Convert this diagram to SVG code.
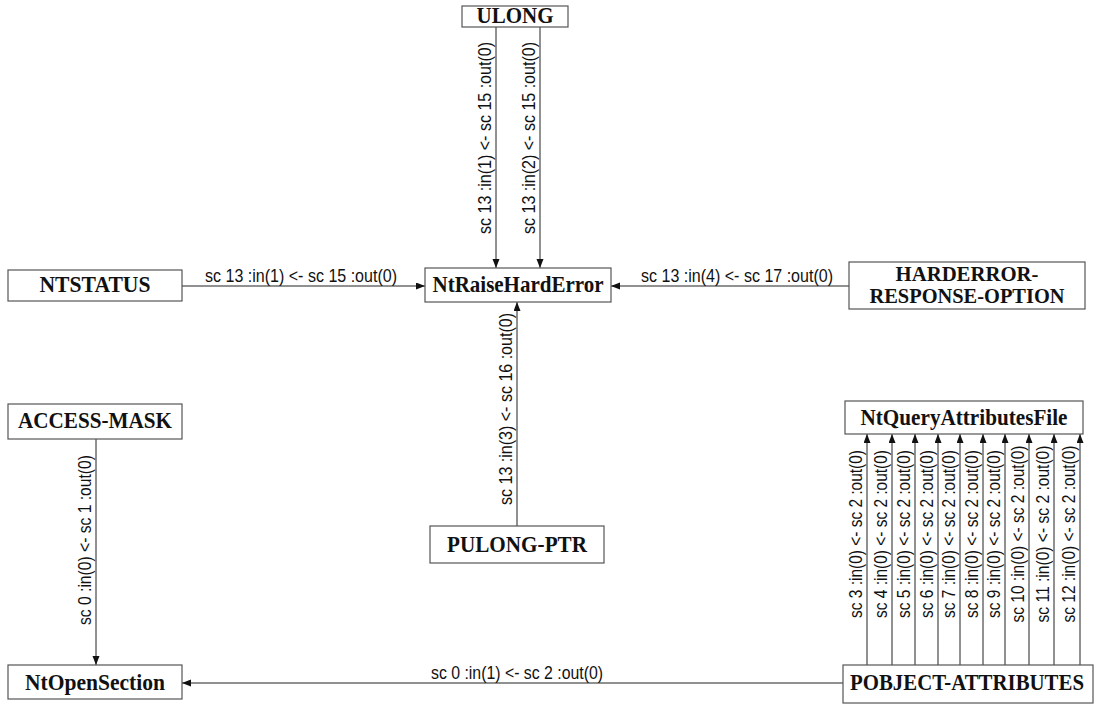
<svg xmlns="http://www.w3.org/2000/svg" width="1097" height="709" viewBox="0 0 1097 709">
<style>
.box{fill:#fff;stroke:#555;stroke-width:1.2}
.nl{font-family:"Liberation Serif","Times New Roman",serif;font-weight:bold;font-size:24px;fill:#111;text-anchor:middle}
.nl2{font-size:21px}
.el{font-family:"Liberation Sans",Arial,sans-serif;font-size:18px;fill:#111;text-anchor:middle}
.edge{stroke:#222;stroke-width:1;fill:none;marker-end:url(#ah)}
</style>
<defs>
<marker id="ah" markerUnits="userSpaceOnUse" markerWidth="10" markerHeight="8" refX="9" refY="3.5" orient="auto">
<path d="M0,0 L9,3.5 L0,7 z" fill="#111"/>
</marker>
</defs>
<rect width="1097" height="709" fill="#fff"/>
<g id="connectors">
<line class="edge" x1="496" y1="27" x2="496" y2="268"/>
<line class="edge" x1="540" y1="27" x2="540" y2="268"/>
<line class="edge" x1="182" y1="286" x2="425" y2="286"/>
<line class="edge" x1="849" y1="286" x2="611" y2="286"/>
<line class="edge" x1="517" y1="526" x2="517" y2="302"/>
<line class="edge" x1="96" y1="439" x2="96" y2="665"/>
<line class="edge" x1="843" y1="683" x2="182" y2="683"/>
<line class="edge" x1="867" y1="665" x2="867" y2="434"/>
<line class="edge" x1="892" y1="665" x2="892" y2="434"/>
<line class="edge" x1="915" y1="665" x2="915" y2="434"/>
<line class="edge" x1="938" y1="665" x2="938" y2="434"/>
<line class="edge" x1="960" y1="665" x2="960" y2="434"/>
<line class="edge" x1="983" y1="665" x2="983" y2="434"/>
<line class="edge" x1="1005" y1="665" x2="1005" y2="434"/>
<line class="edge" x1="1029" y1="665" x2="1029" y2="434"/>
<line class="edge" x1="1054" y1="665" x2="1054" y2="434"/>
<line class="edge" x1="1080" y1="665" x2="1080" y2="434"/>
<text class="el" x="491" y="138" transform="rotate(-90 491 138)" textLength="192" lengthAdjust="spacingAndGlyphs">sc 13 :in(1) &lt;- sc 15 :out(0)</text>
<text class="el" x="535" y="138" transform="rotate(-90 535 138)" textLength="192" lengthAdjust="spacingAndGlyphs">sc 13 :in(2) &lt;- sc 15 :out(0)</text>
<text class="el" x="301" y="282" textLength="192" lengthAdjust="spacingAndGlyphs">sc 13 :in(1) &lt;- sc 15 :out(0)</text>
<text class="el" x="737" y="282" textLength="192" lengthAdjust="spacingAndGlyphs">sc 13 :in(4) &lt;- sc 17 :out(0)</text>
<text class="el" x="512" y="409" transform="rotate(-90 512 409)" textLength="192" lengthAdjust="spacingAndGlyphs">sc 13 :in(3) &lt;- sc 16 :out(0)</text>
<text class="el" x="91" y="540" transform="rotate(-90 91 540)" textLength="170" lengthAdjust="spacingAndGlyphs">sc 0 :in(0) &lt;- sc 1 :out(0)</text>
<text class="el" x="517" y="679" textLength="172" lengthAdjust="spacingAndGlyphs">sc 0 :in(1) &lt;- sc 2 :out(0)</text>
<text class="el" x="862" y="534" transform="rotate(-90 862 534)" textLength="168" lengthAdjust="spacingAndGlyphs">sc 3 :in(0) &lt;- sc 2 :out(0)</text>
<text class="el" x="887" y="534" transform="rotate(-90 887 534)" textLength="168" lengthAdjust="spacingAndGlyphs">sc 4 :in(0) &lt;- sc 2 :out(0)</text>
<text class="el" x="910" y="534" transform="rotate(-90 910 534)" textLength="168" lengthAdjust="spacingAndGlyphs">sc 5 :in(0) &lt;- sc 2 :out(0)</text>
<text class="el" x="933" y="534" transform="rotate(-90 933 534)" textLength="168" lengthAdjust="spacingAndGlyphs">sc 6 :in(0) &lt;- sc 2 :out(0)</text>
<text class="el" x="955" y="534" transform="rotate(-90 955 534)" textLength="168" lengthAdjust="spacingAndGlyphs">sc 7 :in(0) &lt;- sc 2 :out(0)</text>
<text class="el" x="978" y="534" transform="rotate(-90 978 534)" textLength="168" lengthAdjust="spacingAndGlyphs">sc 8 :in(0) &lt;- sc 2 :out(0)</text>
<text class="el" x="1000" y="534" transform="rotate(-90 1000 534)" textLength="168" lengthAdjust="spacingAndGlyphs">sc 9 :in(0) &lt;- sc 2 :out(0)</text>
<text class="el" x="1024" y="534" transform="rotate(-90 1024 534)" textLength="177" lengthAdjust="spacingAndGlyphs">sc 10 :in(0) &lt;- sc 2 :out(0)</text>
<text class="el" x="1049" y="534" transform="rotate(-90 1049 534)" textLength="177" lengthAdjust="spacingAndGlyphs">sc 11 :in(0) &lt;- sc 2 :out(0)</text>
<text class="el" x="1075" y="534" transform="rotate(-90 1075 534)" textLength="177" lengthAdjust="spacingAndGlyphs">sc 12 :in(0) &lt;- sc 2 :out(0)</text>
</g>
<g id="ULONG"><rect class="box" x="462" y="6" width="106" height="21"/><text class="nl" x="515" y="23" textLength="77" lengthAdjust="spacingAndGlyphs">ULONG</text></g>
<g id="NTSTATUS"><rect class="box" x="8" y="270" width="174" height="31"/><text class="nl" x="95" y="292" textLength="111" lengthAdjust="spacingAndGlyphs">NTSTATUS</text></g>
<g id="NtRaiseHardError"><rect class="box" x="425" y="268" width="186" height="34"/><text class="nl" x="518" y="292" textLength="171" lengthAdjust="spacingAndGlyphs">NtRaiseHardError</text></g>
<g id="HARDERROR-RESPONSE-OPTION"><rect class="box" x="849" y="262" width="236" height="47"/><text class="nl nl2" x="967" y="281" textLength="143" lengthAdjust="spacingAndGlyphs">HARDERROR-</text><text class="nl nl2" x="967" y="303" textLength="195" lengthAdjust="spacingAndGlyphs">RESPONSE-OPTION</text></g>
<g id="ACCESS-MASK"><rect class="box" x="8" y="404" width="174" height="35"/><text class="nl" x="95" y="428" textLength="154" lengthAdjust="spacingAndGlyphs">ACCESS-MASK</text></g>
<g id="NtQueryAttributesFile"><rect class="box" x="845" y="401" width="238" height="33"/><text class="nl" x="964" y="425" textLength="207" lengthAdjust="spacingAndGlyphs">NtQueryAttributesFile</text></g>
<g id="PULONG-PTR"><rect class="box" x="430" y="526" width="174" height="37"/><text class="nl" x="517" y="552" textLength="140" lengthAdjust="spacingAndGlyphs">PULONG-PTR</text></g>
<g id="NtOpenSection"><rect class="box" x="8" y="665" width="174" height="34"/><text class="nl" x="95" y="690" textLength="140" lengthAdjust="spacingAndGlyphs">NtOpenSection</text></g>
<g id="POBJECT-ATTRIBUTES"><rect class="box" x="843" y="665" width="250" height="38"/><text class="nl" x="967" y="690" textLength="234" lengthAdjust="spacingAndGlyphs">POBJECT-ATTRIBUTES</text></g>
</svg>
